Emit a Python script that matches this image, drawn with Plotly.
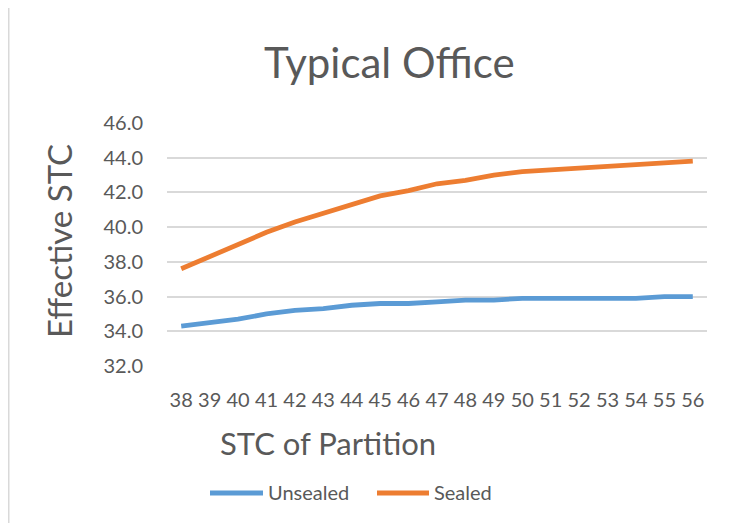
import plotly.graph_objects as go

categories = [str(v) for v in range(38, 57)]
series_names = ["Unsealed", "Sealed"]
unsealed = [34.3, 34.5, 34.7, 35.0, 35.2, 35.3, 35.5, 35.6, 35.6, 35.7, 35.8, 35.8, 35.9, 35.9, 35.9, 35.9, 35.9, 36.0, 36.0]
sealed = [37.6, 38.3, 39.0, 39.7, 40.3, 40.8, 41.3, 41.8, 42.1, 42.5, 42.7, 43.0, 43.2, 43.3, 43.4, 43.5, 43.6, 43.7, 43.8]
y_ticks = [32, 34, 36, 38, 40, 42, 44, 46]
colors = ["#5b9bd5", "#ed7d31"]

FONT = "Lato"
TXT = "#595959"

# page body has an 8px margin; figure is sized so it fits the window exactly
OFF = 8
W, H = 736 - OFF, 523 - OFF
PL, PR, PT, PB = 167, 707, 123, 366  # plot area in window coordinates
L, R, T, B = PL - OFF, W - (PR - OFF), PT - OFF, H - (PB - OFF)
pw, ph = PR - PL, PB - PT

def px(x):
    return (x - PL) / pw

def py(y):
    return (PB - y) / ph

fig = go.Figure()
for name, vals, col in zip(series_names, [unsealed, sealed], colors):
    fig.add_trace(go.Scatter(x=categories, y=vals, mode="lines", name=name,
                             line=dict(color=col, width=4.8)))

annotations = [
    dict(text="Typical Office", x=px(389), y=py(62), xref="paper", yref="paper",
         showarrow=False, font=dict(size=42, color=TXT), xanchor="center", yanchor="middle"),
    dict(text="Effective STC", x=px(59), y=py(241), xref="paper", yref="paper",
         showarrow=False, textangle=-90, font=dict(size=33, color=TXT),
         xanchor="center", yanchor="middle"),
    dict(text="STC of Partition", x=px(327.5), y=py(443), xref="paper", yref="paper",
         showarrow=False, font=dict(size=31, color=TXT), xanchor="center", yanchor="middle"),
]
shapes = [
    dict(type="rect", xref="paper", yref="paper", x0=px(8.75), x1=px(731), y0=py(540), y1=py(3),
         line=dict(color="#d9d9d9", width=1.5), fillcolor="rgba(0,0,0,0)", layer="below"),
]
# legend drawn manually to match the long legend keys
leg = [(210, 263, 266), (377, 429, 432)]
for (x0, x1, xt), name, col in zip(leg, series_names, colors):
    shapes.append(dict(type="line", xref="paper", yref="paper", x0=px(x0), x1=px(x1),
                       y0=py(493), y1=py(493), line=dict(color=col, width=4.8)))
    annotations.append(dict(text=name, x=px(xt), y=py(492), xref="paper", yref="paper",
                            showarrow=False, font=dict(size=20, color=TXT),
                            xanchor="left", yanchor="middle"))

fig.update_layout(
    width=W, height=H,
    margin=dict(l=L, r=R, t=T, b=B, pad=0),
    paper_bgcolor="white", plot_bgcolor="white",
    font=dict(family=FONT, color=TXT, size=20),
    showlegend=False,
    xaxis=dict(type="category", range=[-0.5, 18.5], showgrid=False, showline=False,
               ticks="", tickfont=dict(size=20, color=TXT), ticklabelstandoff=20),
    yaxis=dict(range=[32, 46], tickvals=y_ticks, tickformat=".1f", showgrid=True,
               gridcolor="#d9d9d9", gridwidth=1.5, zeroline=False, showline=False,
               ticks="", tickfont=dict(size=20, color=TXT), ticklabelstandoff=23),
    annotations=annotations,
    shapes=shapes,
)

fig.write_html("out.html")
